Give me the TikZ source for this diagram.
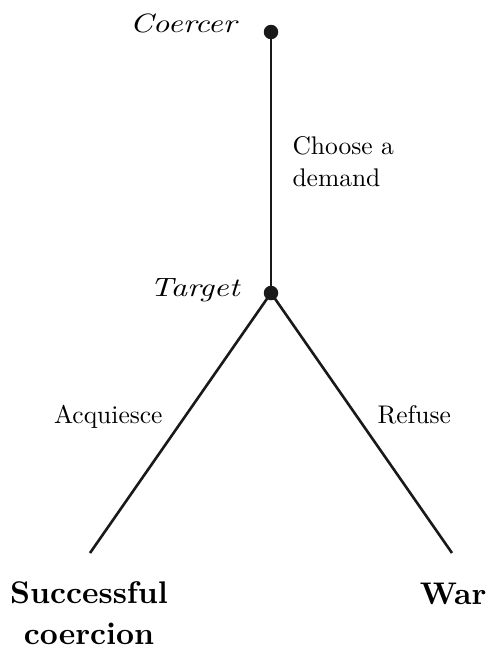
\documentclass[tikz,border=0pt]{standalone}
\usepackage{graphicx}
\begin{document}
\begin{tikzpicture}[x=1pt,y=1pt,
  edge/.style={line width=2.6pt, color=black!90},
  dotnode/.style={circle, fill=black!90, inner sep=0pt, minimum size=14.5pt},
  player/.style={inner sep=0pt, scale=2.65, font=\fontsize{10}{12}\selectfont\itshape},
  actlabel/.style={inner sep=0pt, scale=2.55, font=\fontsize{10}{12.5}\selectfont},
  outcome/.style={inner sep=0pt, scale=3.13, font=\fontsize{10}{13}\selectfont\bfseries}]
\useasboundingbox (0,0) rectangle (489,-651);
\node[dotnode] (c) at (271,-32) {};
\node[dotnode] (t) at (271,-293) {};
\coordinate (l) at (90,-553);
\coordinate (r) at (452,-553);
\draw[edge] (c.center) -- (t.center);
\draw[edge] (t.center) -- (l);
\draw[edge] (t.center) -- (r);
\node[player, anchor=base east] (cl) at (237,-32) {\scalebox{1.22}[1]{Coercer}};
\node[player, anchor=base east] (tl) at (240,-296) {\scalebox{1.22}[1]{Target}};
\node[actlabel, anchor=base west, align=left] (cd) at (292,-186) {Choose a\\demand};
\node[actlabel, anchor=base east] (aq) at (163,-423) {Acquiesce};
\node[actlabel, anchor=base west] (rf) at (377,-423) {Refuse};
\node[outcome, anchor=base, align=center] (sc) at (89,-644) {Successful\\coercion};
\node[outcome, anchor=base east] (war) at (487,-604) {War};
\end{tikzpicture}
\end{document}
